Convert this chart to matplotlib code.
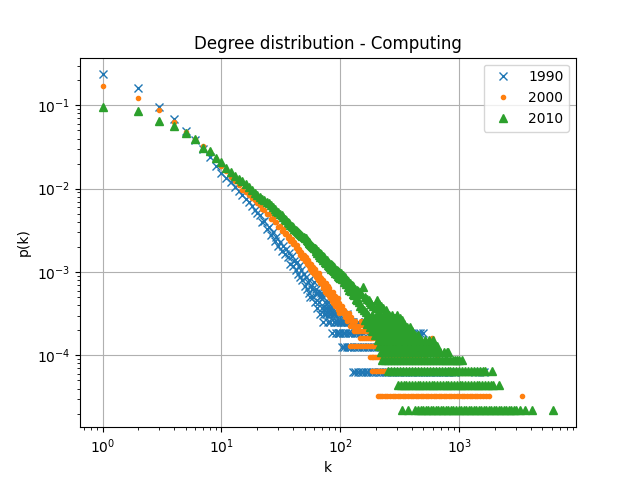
import numpy as np
import matplotlib
matplotlib.use("Agg")
import matplotlib.pyplot as plt

# ---------------------------------------------------------
# Data: node counts per degree k
# p(k) = count / total nodes
# ---------------------------------------------------------
N_1990 = 16000
N_2000 = 31000
N_2010 = 45700

# counts for k = 1..100
head_1990 = [3760, 2560, 1514, 1086, 780, 608, 473, 383, 300, 250,
             215, 190, 168, 150, 133, 120, 110, 98, 90, 82,
             78, 64, 66, 52, 56, 45, 48, 38, 42, 33,
             37, 29, 33, 26, 30, 24, 27, 20, 25, 19,
             22, 17, 21, 15, 19, 14, 17, 13, 15, 11,
             14, 10, 12, 9, 13, 8, 11, 10, 8, 12,
             7, 9, 10, 6, 9, 7, 8, 5, 9, 6,
             4, 8, 5, 6, 7, 5, 6, 4, 7, 5,
             6, 4, 5, 6, 3, 5, 6, 4, 5, 4,
             5, 3, 5, 4, 3, 4, 5, 3, 4, 3]
mid_k_1990 = [102, 105, 108, 111, 114, 117, 121, 125]
mid_c_1990 = [4, 5, 4, 4, 5, 4, 4, 4]
row1_1990 = [128, 134, 141, 148, 156, 164, 172, 181, 190, 200, 210, 221, 232,
             244, 256, 270, 284, 298, 313, 330, 347, 365, 384, 403, 424, 446,
             469, 493, 518, 545, 573, 602, 633, 666, 700, 736, 774, 814, 856,
             900, 925, 1350, 1480, 1600]
row2_1990 = [103, 108, 113, 118, 124, 130, 137, 144, 151, 159, 167, 175, 184,
             193, 203, 220, 240, 262, 285, 310, 340, 375, 420, 480, 560]
row3_1990 = [105, 110, 115, 120, 126, 132, 139, 146, 155, 170, 190, 215, 250,
             451, 470, 497]
row4_1990 = [106, 116, 128, 140, 160, 185, 290]

head_2000 = [5240, 3760, 2700, 1950, 1490, 1240, 1010, 850, 700, 580,
             500, 430, 380, 340, 300, 280, 260, 240, 225, 210,
             200, 178, 174, 154, 155, 136, 139, 122, 124, 108,
             112, 97, 101, 88, 92, 80, 84, 73, 77, 67,
             71, 61, 65, 56, 59, 50, 54, 46, 49, 42,
             47, 39, 43, 37, 40, 34, 39, 31, 36, 29,
             34, 27, 31, 29, 25, 30, 23, 27, 26, 22,
             25, 20, 23, 21, 18, 23, 17, 21, 19, 16,
             20, 15, 18, 17, 14, 18, 13, 16, 15, 12,
             16, 12, 14, 13, 11, 15, 10, 13, 12, 11]
mid_k_2000 = [102, 104, 106, 108, 110, 112, 114, 116, 118, 120, 122, 124, 126,
              128, 130, 132, 134, 136, 138, 141, 144, 147, 150, 154, 158, 162,
              167, 172, 178, 185, 227]
mid_c_2000 = [11, 12, 10, 11, 9, 10, 8, 9, 10, 7, 8, 9, 7,
              8, 6, 7, 8, 6, 7, 6, 7, 6, 8, 6, 7, 6,
              6, 7, 6, 6, 9]
row1_2000 = [207, 215, 225, 236, 248, 262, 275, 290, 305, 320, 335, 350, 370,
             390, 410, 430, 450, 475, 500, 525, 550, 580, 610, 640, 670, 700,
             740, 780, 820, 860, 900, 950, 1000, 1050, 1100, 1160, 1220, 1280,
             1350, 1420, 1500, 1580, 1680, 1790, 3400]
row2_2000 = [185, 192, 200, 208, 217, 226, 236, 247, 258, 270, 285, 300, 318,
             337, 357, 380, 405, 432, 460, 500, 540, 580, 630, 690, 760, 840,
             950, 1100, 1300]
row3_2000 = [177, 183, 190, 197, 205, 213, 222, 232, 243, 255, 268, 285, 305,
             330, 360, 400, 450, 520, 650]
row4_2000 = [120, 126, 132, 139, 146, 153, 160, 168, 176, 184, 192, 210, 240,
             280, 545]
row5_2000 = [147, 152, 158, 164, 170, 176, 182, 188, 200, 220, 250, 590]

head_2010 = [4400, 3900, 2950, 2560, 2140, 1780, 1410, 1290, 1080, 960,
             820, 720, 650, 600, 560, 520, 480, 440, 410, 385,
             365, 348, 333, 320, 305, 290, 276, 262, 248, 237,
             227, 218, 210, 200, 190, 182, 175, 168, 162, 157,
             152, 147, 142, 138, 135, 132, 128, 124, 121, 118,
             116, 112, 108, 106, 102, 100, 97, 94, 92, 90,
             88, 82, 86, 78, 82, 74, 78, 70, 75, 68,
             72, 64, 69, 61, 66, 58, 63, 56, 61, 54,
             59, 52, 57, 50, 55, 48, 54, 47, 52, 45,
             50, 44, 48, 43, 47, 41, 46, 40, 44, 39]
mid_k_2010 = [101, 103, 105, 107, 109, 111, 113, 115, 117, 119, 121, 123, 125,
              127, 129, 131, 133, 135, 137, 139, 141, 143, 145, 147, 149, 152,
              155, 158, 161, 164, 167, 170, 173, 176, 179, 182, 186, 190, 194,
              198, 202, 206, 210, 215, 220, 225, 230, 236, 242, 248, 255, 262,
              270, 280, 290, 300, 317]
mid_c_2010 = [45, 38, 42, 35, 40, 33, 37, 30, 36, 28, 34, 27, 32,
              25, 31, 24, 29, 22, 28, 21, 27, 20, 26, 18, 25, 17,
              30, 16, 23, 15, 22, 14, 21, 13, 20, 19, 14, 18, 13,
              17, 21, 15, 19, 14, 18, 13, 17, 15, 16, 13, 14, 13,
              14, 13, 13, 14, 13]
row1_2010 = [330, 370, 425, 450, 473, 497, 522, 548, 576, 605, 635, 667, 700,
             735, 772, 811, 851, 894, 939, 986, 1035, 1087, 1141, 1198, 1258,
             1321, 1387, 1456, 1529, 1606, 1686, 1770, 1859, 1952, 2049, 2152,
             2259, 2372, 2491, 2615, 2746, 2883, 3030, 3240, 3600, 4100, 6200]
row2_2010 = [305, 322, 340, 359, 379, 400, 422, 446, 471, 497, 525, 554, 585,
             618, 652, 689, 727, 768, 811, 856, 904, 954, 1008, 1064, 1124,
             1186, 1253, 1323, 1397, 1475, 1557, 1644, 1736, 1833, 1930, 2150]
row3_2010 = [250, 265, 281, 298, 316, 335, 355, 376, 398, 422, 447, 474, 502,
             532, 563, 597, 632, 670, 710, 752, 797, 844, 894, 947, 1003, 1063,
             1126, 1193, 1264, 1339, 1418, 1502, 1591, 1650, 1880]
row4_2010 = [225, 238, 252, 267, 283, 300, 318, 337, 357, 378, 400, 424, 449,
             475, 503, 533, 565, 598, 633, 670, 710, 752, 796, 843, 893, 920,
             960, 1000, 1060]
row5_2010 = [218, 230, 244, 258, 273, 289, 306, 324, 343, 363, 385, 408, 432,
             457, 484, 512, 542, 574, 608, 644, 690, 740, 790, 810]
row6_2010 = [213, 225, 238, 252, 267, 283, 300, 318, 337, 357, 378, 401, 425,
             450, 477, 505, 535, 570, 610, 650]
row7_2010 = [208, 220, 233, 247, 262, 278, 295, 313, 333, 354, 376, 400, 425,
             452, 480, 520, 560, 600]
row8_2010 = [196, 207, 219, 232, 246, 261, 277, 294, 312, 332, 352, 374, 397,
             422, 450]
row9_2010 = [185, 195, 207, 220, 234, 248, 264, 281, 299, 318, 338, 360, 382,
             400]
row10_2010 = [176, 186, 197, 209, 222, 236, 250, 266, 283, 300, 320, 340, 362,
              385]
row11_2010 = [168, 177, 188, 200, 213, 226, 240, 255, 271, 288, 306, 325, 345]
row12_2010 = [161, 170, 180, 192, 205, 218, 232, 246, 262, 278, 295, 313, 330]


def build(head, mid_k, mid_c, rows, total):
    k = list(range(1, len(head) + 1)) + list(mid_k)
    c = list(head) + list(mid_c)
    for count, ks in rows.items():
        k += ks
        c += [count] * len(ks)
    return np.array(k, dtype=float), np.array(c, dtype=float) / total


k90, p90 = build(head_1990, mid_k_1990, mid_c_1990,
                 {1: row1_1990, 2: row2_1990, 3: row3_1990, 4: row4_1990}, N_1990)
k00, p00 = build(head_2000, mid_k_2000, mid_c_2000,
                 {1: row1_2000, 2: row2_2000, 3: row3_2000, 4: row4_2000,
                  5: row5_2000}, N_2000)
k10, p10 = build(head_2010, mid_k_2010, mid_c_2010,
                 {1: row1_2010, 2: row2_2010, 3: row3_2010, 4: row4_2010,
                  5: row5_2010, 6: row6_2010, 7: row7_2010, 8: row8_2010,
                  9: row9_2010, 10: row10_2010, 11: row11_2010,
                  12: row12_2010}, N_2010)

# ---------------------------------------------------------
# Plot
# ---------------------------------------------------------
plt.figure(figsize=(6.4, 4.8), dpi=100)
plt.loglog(k90, p90, "x", label="1990")
plt.loglog(k00, p00, ".", label="2000")
plt.loglog(k10, p10, "^", label="2010")

plt.title("Degree distribution - Computing")
plt.xlabel("k")
plt.ylabel("p(k)")
plt.legend(loc="upper right")
plt.grid(True)

plt.savefig("out.png", dpi=100)
